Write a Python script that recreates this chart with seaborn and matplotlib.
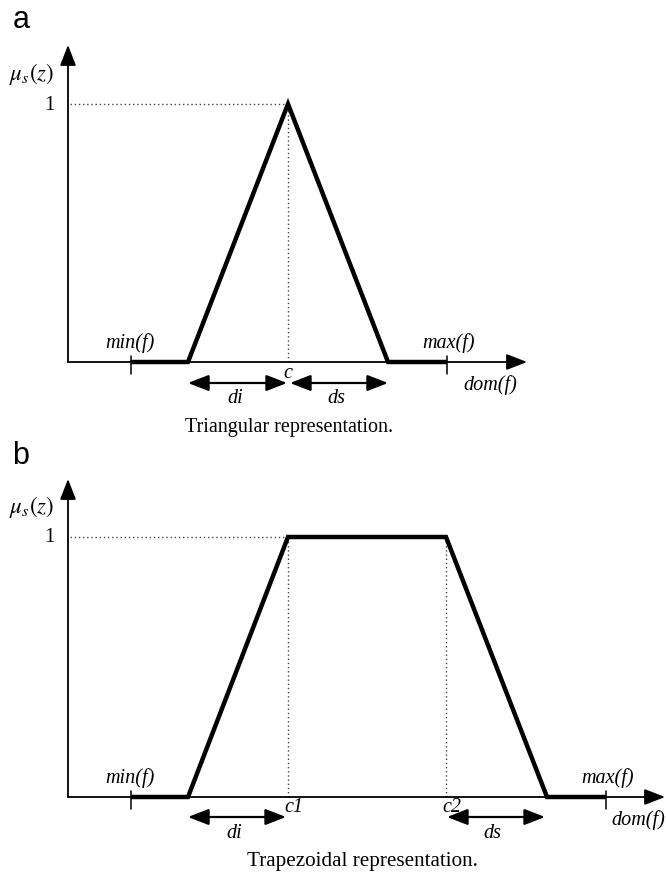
import numpy as np
import seaborn as sns
import matplotlib.pyplot as plt

sns.set_theme(style="white")
plt.rcParams['font.family'] = ['Liberation Serif', 'DejaVu Serif']
plt.rcParams['mathtext.fontset'] = 'stix'

# membership functions: breakpoints on dom(f) and membership values
tri_x = [131, 188, 288, 388, 447]
tri_mu = [0, 0, 1, 0, 0]
trap_x = [131, 188, 288, 446, 547, 606]
trap_mu = [0, 0, 1, 1, 0, 0]

# layout of each panel (figure pixel rows / columns)
panels = [
    dict(letter="a", x=tri_x, mu=tri_mu, top=0, bottom=436, base=362, one=104,
         ytip=45, xtip=527, centers=[288], center_labels=["c"], clab_dx=[0], clab_dy=[11],
         di=(188, 287), ds=(290, 388), arrow_dy=21, di_lx=235, ds_lx=336, dlab_dy=36,
         dom_x=490, caption="Triangular representation.", cap_x=289, cap_row=427, cap_fs=14.5),
    dict(letter="b", x=trap_x, mu=trap_mu, top=436, bottom=872, base=797, one=537,
         ytip=479, xtip=665, centers=[288, 446], center_labels=["c1", "c2"], clab_dx=[6, 6], clab_dy=[10, 10],
         di=(188, 286), ds=(447, 545), arrow_dy=20, di_lx=234, ds_lx=492, dlab_dy=36,
         dom_x=638, caption="Trapezoidal representation.", cap_x=362, cap_row=861, cap_fs=15.2),
]

fig = plt.figure(figsize=(6.66, 8.72), dpi=100)
H = 872.0
FS = 14.5

for p in panels:
    scale = p["base"] - p["one"]

    def yr(row, p=p, scale=scale):
        return (p["base"] - row) / scale

    ax = fig.add_axes([0, 1 - p["bottom"] / H, 1, (p["bottom"] - p["top"]) / H])
    ax.set_xlim(0, 666)
    ax.set_ylim(yr(p["bottom"]), yr(p["top"]))
    ax.set_axis_off()

    # axes with arrow heads
    ax.annotate("", xy=(68, yr(p["ytip"])), xytext=(68, 0),
                arrowprops=dict(arrowstyle="-|>,head_length=0.9,head_width=0.35", lw=1.3,
                                color="black", shrinkA=0, shrinkB=0, mutation_scale=14))
    ax.annotate("", xy=(p["xtip"], 0), xytext=(68, 0),
                arrowprops=dict(arrowstyle="-|>,head_length=0.9,head_width=0.35", lw=1.3,
                                color="black", shrinkA=0, shrinkB=0, mutation_scale=14))

    # dotted guides
    ax.plot([70, p["centers"][0]], [1, 1], ls=(0, (1, 2)), lw=1, color="#444444")
    for c in p["centers"]:
        ax.plot([c, c], [0, 1], ls=(0, (1, 2)), lw=1, color="#444444")

    # membership function
    sns.lineplot(x=p["x"], y=p["mu"], ax=ax, color="black", lw=3.2, sort=False,
                 estimator=None, solid_joinstyle="miter", solid_capstyle="butt")

    # min/max ticks
    for xt in (p["x"][0], p["x"][-1]):
        ax.plot([xt, xt], [yr(p["base"] - 6), yr(p["base"] + 12)], color="black", lw=1.1)

    # dimension arrows
    ar = yr(p["base"] + p["arrow_dy"])
    for a0, a1 in (p["di"], p["ds"]):
        ax.annotate("", xy=(a1, ar), xytext=(a0, ar),
                    arrowprops=dict(arrowstyle="<|-|>,head_length=0.9,head_width=0.35", lw=1.6,
                                    color="black", shrinkA=0, shrinkB=0, mutation_scale=14))

    tkw = dict(fontsize=FS, ha="center", va="center", style="italic", color="black")
    ax.text(p["x"][0] - 1, yr(p["base"] - 19), "min(f)", **tkw)
    ax.text(p["x"][-1] + 2, yr(p["base"] - 19), "max(f)", **tkw)
    ax.text(p["dom_x"], yr(p["base"] + 23), "dom(f)", **tkw)
    dl = yr(p["base"] + p["dlab_dy"])
    ax.text(p["di_lx"], dl, "di", **tkw)
    ax.text(p["ds_lx"], dl, "ds", **tkw)
    for c, lab, dx, dy in zip(p["centers"], p["center_labels"], p["clab_dx"], p["clab_dy"]):
        ax.text(c + dx, yr(p["base"] + dy), lab, **tkw)

    ax.text(49, yr(p["one"] + 1), "1", fontsize=15, ha="center", va="center", color="black")
    ax.text(32, yr(p["one"] - 30), r"$\mu_s(z)$", fontsize=16.5, ha="center", va="center", color="black")
    ax.text(21, yr(p["top"] + 20), p["letter"], fontsize=22, ha="center", va="center",
            color="black", family=["Liberation Sans", "DejaVu Sans"])
    ax.text(p["cap_x"], yr(p["cap_row"]), p["caption"], fontsize=p["cap_fs"], ha="center", va="center",
            color="black")

fig.savefig("out.png", dpi=100)
